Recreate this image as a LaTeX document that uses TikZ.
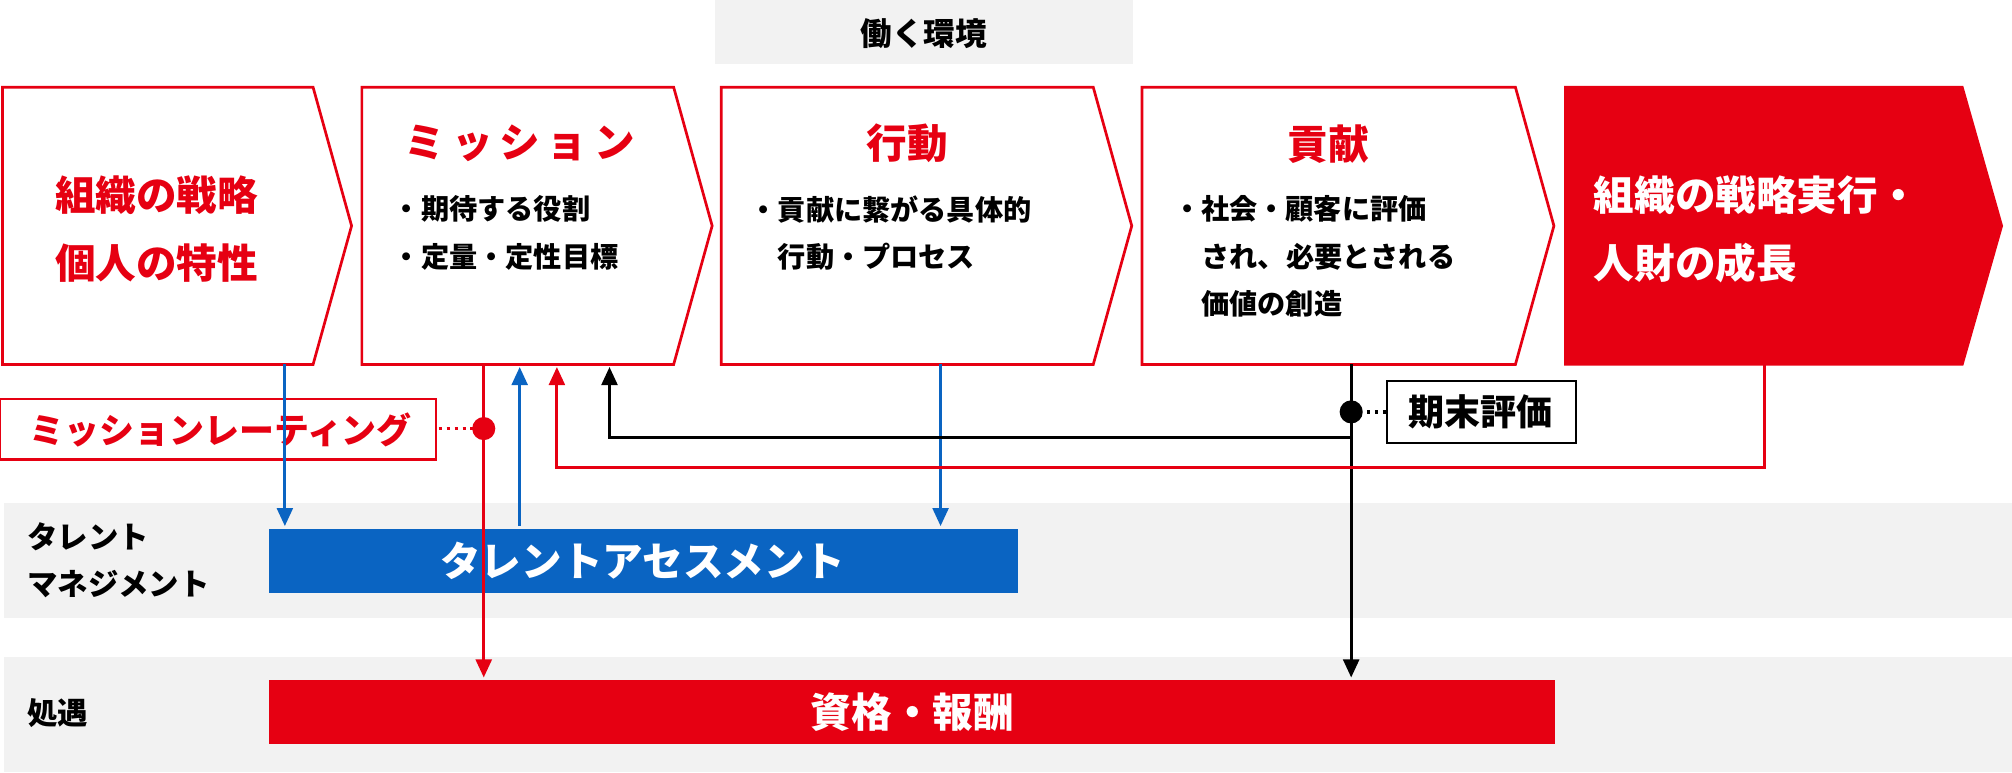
\documentclass[tikz,border=0pt]{standalone}
\usepackage{fontspec}
\setmainfont{Noto Sans CJK JP}
\newfontfamily\jpb{Noto Sans CJK JP}[BoldFont={Noto Sans CJK JP Bold}]
\usetikzlibrary{arrows.meta}
\definecolor{jred}{HTML}{E60012}
\definecolor{jblue}{HTML}{0A64C2}
\definecolor{jgray}{HTML}{F2F2F2}
\tikzset{
  chev/.style={draw=jred,line width=1.2pt,fill=white},
  ttl/.style={font=\fontsize{18}{22}\selectfont\bfseries,text=jred},
  body/.style={font=\fontsize{12.5}{16}\selectfont\bfseries,anchor=west},
  side/.style={font=\fontsize{13.5}{16}\selectfont\bfseries,anchor=west},
  bar/.style={font=\fontsize{18}{22}\selectfont\bfseries,text=white,inner sep=0pt},
  con/.style={line width=1.3pt,-{Triangle[length=8pt,width=7pt]}},
  dotl/.style={line width=1.5pt,dotted},
}
\begin{document}
\begin{tikzpicture}[x=0.02cm,y=-0.02cm]
\useasboundingbox (0,0) rectangle (1568,602);
% gray areas
\fill[jgray] (557,0) rectangle (883,50);
\node[font=\fontsize{14}{16}\selectfont\bfseries] (env) at (720,26) {働く環境};
\fill[jgray] (3,392) rectangle (1568,482);
\fill[jgray] (3,512) rectangle (1568,602);
% chevrons
\draw[chev] (2,68) -- (244,68) -- (274,176) -- (244,284) -- (2,284) -- cycle;
\draw[chev] (282,68) -- (525,68) -- (555,176) -- (525,284) -- (282,284) -- cycle;
\draw[chev] (562,68) -- (852,68) -- (882,176) -- (852,284) -- (562,284) -- cycle;
\draw[chev] (890,68) -- (1181,68) -- (1211,176) -- (1181,284) -- (890,284) -- cycle;
\fill[jred] (1219,67) -- (1530,67) -- (1561,176) -- (1530,285) -- (1219,285) -- cycle;
% texts
\node[ttl] (c1a) at (122,152) {組織の戦略};
\node[ttl] (c1b) at (122,205) {個人の特性};
\node[ttl] (c2) at (405,112) {ミ\,ッ\,シ\,ョ\,ン};
\node[body] (c2a) at (300,163) {・期待する役割};
\node[body] (c2b) at (300,200) {・定量・定性目標};
\node[ttl] (c3) at (707,112) {行動};
\node[body] (c3a) at (578,163) {・貢献に繋がる具体的};
\node[body] (c3b) at (600,200) {行動・プロセス};
\node[ttl] (c4) at (1035,112) {貢献};
\node[body] (c4a) at (908,163) {・社会・顧客に評価};
\node[body] (c4b) at (930,200) {され、必要とされる};
\node[body] (c4c) at (930,237) {価値の創造};
\node[ttl,text=white,anchor=west] (c5a) at (1236,152) {組織の戦略実行・};
\node[ttl,text=white,anchor=west] (c5b) at (1236,205) {人財の成長};
% side labels
\node[side] (s1) at (15,418) {タレント};
\node[side] (s2) at (15,455) {マネジメント};
\node[side] (s3) at (15,556) {処遇};
% bars
\fill[jblue] (210,412) rectangle (793,462);
\node[bar] (ta) at (501,437) {タレントアセスメント};
\fill[jred] (210,530) rectangle (1212,580);
\node[bar] (sk) at (711,555) {資格・報酬};
% label boxes
\draw[draw=jred,line width=1pt,fill=white] (0,311) rectangle (340,358);
\node[font=\fontsize{15.5}{18}\selectfont\bfseries,text=jred] (mr) at (172,335) {ミッションレーティング};
\draw[line width=1pt,fill=white] (1081,297) rectangle (1228,345);
\node[font=\fontsize{16}{18}\selectfont\bfseries] (ki) at (1154,321) {期末評価};
% dots
\coordinate (rd) at (377,334);
\coordinate (bd) at (1053,321);
\draw[dotl,jred] (342,334) -- (rd);
\draw[dotl] (bd) -- (1080,321);
% connectors
\draw[con,jblue] (222,284) -- (222,410);
\draw[con,jred] (377,284) -- (377,528);
\draw[con,jblue] (405,410) -- (405,286);
\draw[con,jblue] (733,284) -- (733,410);
\draw[con] (1053,284) -- (1053,528);
\draw[con] (1053,341) -- (475,341) -- (475,286);
\draw[con,jred] (1375,284) -- (1375,364) -- (434,364) -- (434,286);
\fill[jred] (rd) circle (9);
\fill[black] (bd) circle (9);
\end{tikzpicture}
\end{document}
